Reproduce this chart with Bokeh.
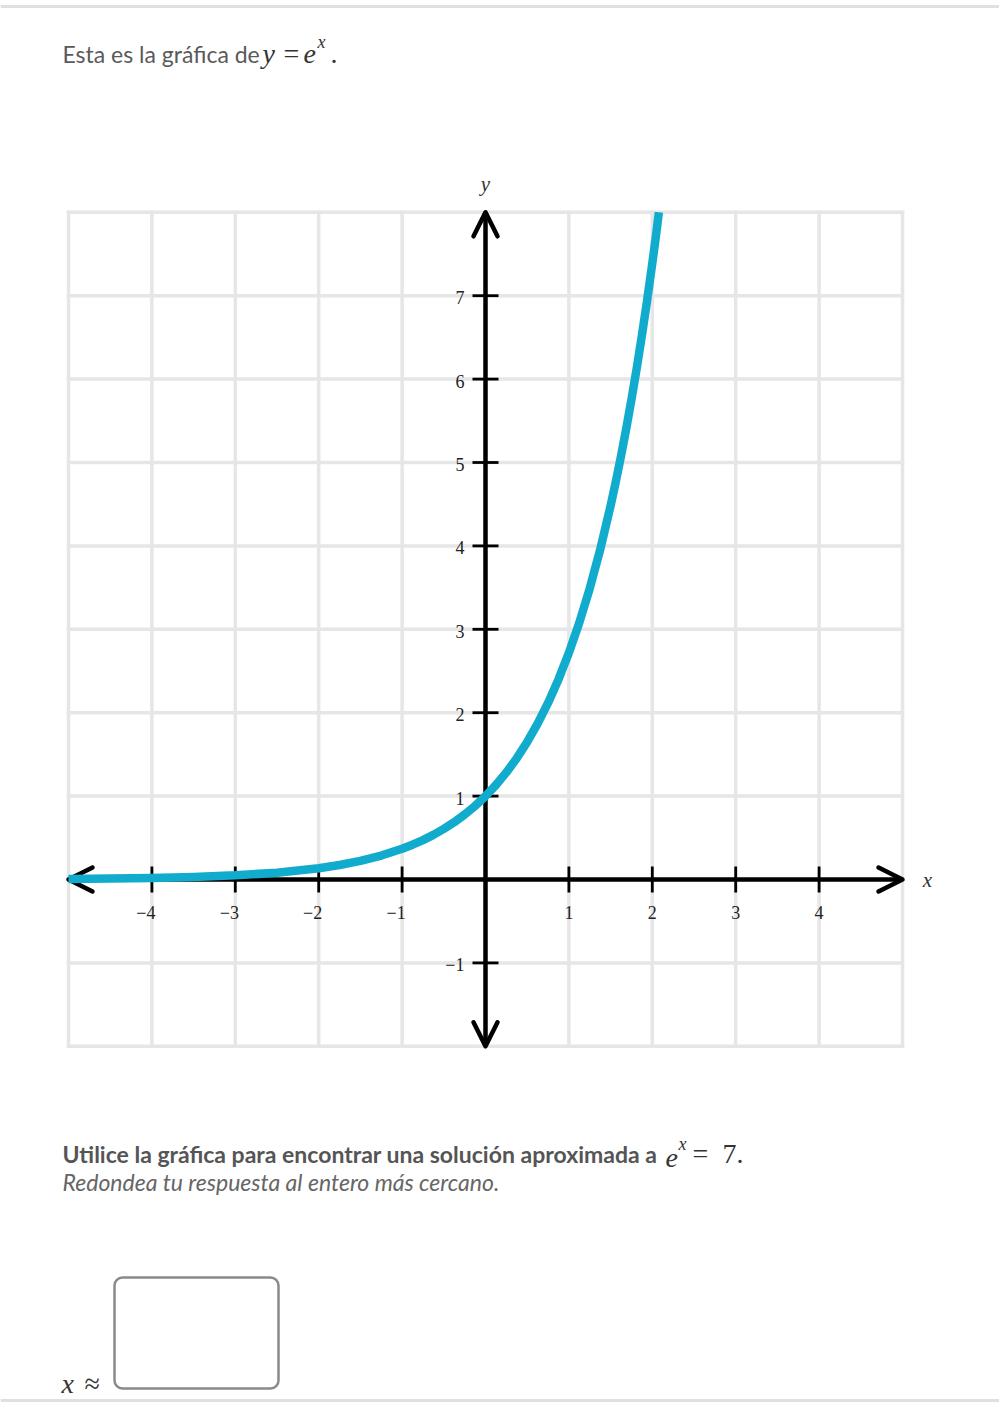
import numpy as np
from bokeh.plotting import figure
from bokeh.models import Range1d, Label, Arrow, OpenHead, Span, BoxAnnotation, ColumnDataSource
from bokeh.embed import file_html
from bokeh.resources import INLINE
from bokeh.core.properties import value

# ---- data ----
x_ticks = [-4, -3, -2, -1, 1, 2, 3, 4]
x_tick_labels = ["−4", "−3", "−2", "−1", "1", "2", "3", "4"]
y_ticks = [-1, 1, 2, 3, 4, 5, 6, 7]
y_tick_labels = ["−1", "1", "2", "3", "4", "5", "6", "7"]
grid_x = [-5, -4, -3, -2, -1, 0, 1, 2, 3, 4, 5]
grid_y = [-2, -1, 0, 1, 2, 3, 4, 5, 6, 7, 8]
curve_x = [-5, -4.5, -4, -3.5, -3, -2.5, -2, -1.75, -1.5, -1.25,
           -1, -0.875, -0.75, -0.625, -0.5, -0.375, -0.25, -0.125,
           0, 0.125, 0.25, 0.375, 0.5, 0.625, 0.75, 0.875,
           1, 1.125, 1.25, 1.375, 1.5, 1.5625, 1.625, 1.6875, 1.75, 1.8125,
           1.875, 1.9375, 2, 2.04, 2.079]
curve_y = [0.007, 0.011, 0.018, 0.030, 0.050, 0.082, 0.135, 0.174, 0.223, 0.287,
           0.368, 0.417, 0.472, 0.535, 0.607, 0.687, 0.779, 0.882,
           1.0, 1.133, 1.284, 1.455, 1.649, 1.868, 2.117, 2.399,
           2.718, 3.080, 3.490, 3.955, 4.482, 4.771, 5.078, 5.406, 5.755, 6.126,
           6.521, 6.942, 7.389, 7.690, 8.0]

# ---- layout helpers (page pixels -> data units) ----
W, H = 999, 1408
U = 83.4
X0, Y0 = 485, 879


def dx(px):
    return (px - X0) / U


def dy(py):
    return (Y0 - py) / U


p = figure(width=W, height=H, x_range=Range1d(dx(0), dx(W)), y_range=Range1d(dy(H), dy(0)),
           output_backend="svg", toolbar_location=None, min_border=0,
           x_axis_location=None, y_axis_location=None)
p.outline_line_color = None
p.grid.visible = False
p.background_fill_color = "white"
p.border_fill_color = "white"

GRID = "#e6e6e6"
xmin, xmax = min(grid_x), max(grid_x)
ymin, ymax = min(grid_y), max(grid_y)

# grid
p.segment(x0=grid_x, y0=[ymin] * len(grid_x), x1=grid_x, y1=[ymax] * len(grid_x),
          line_color=GRID, line_width=3.5, line_cap="square", level="image")
p.segment(x0=[xmin] * len(grid_y), y0=grid_y, x1=[xmax] * len(grid_y), y1=grid_y,
          line_color=GRID, line_width=3.5, line_cap="square", level="image")


# axes with arrows
def head():
    return OpenHead(size=24, line_width=4.5, line_color="black", line_cap="round", line_join="round")


xa = Arrow(x_start=xmin, y_start=0, x_end=xmax, y_end=0, start=head(), end=head(),
           line_width=4.5, line_color="black", level="underlay")
ya = Arrow(x_start=0, y_start=ymin, x_end=0, y_end=ymax, start=head(), end=head(),
           line_width=4.5, line_color="black", level="underlay")
p.add_layout(xa)
p.add_layout(ya)

# ticks
p.scatter(x=x_ticks, y=[0] * len(x_ticks), marker="dash", size=26, angle=np.pi / 2,
          line_color="black", line_width=2.8)
p.scatter(x=[0] * len(y_ticks), y=y_ticks, marker="dash", size=26,
          line_color="black", line_width=2.8)

TICKFONT = value("Liberation Serif")
# tick labels
xsrc = ColumnDataSource(dict(x=x_ticks, y=[0] * len(x_ticks), t=x_tick_labels,
                             xo=[-6 if v < 0 else 0 for v in x_ticks]))
p.text(x="x", y="y", text="t", x_offset="xo", y_offset=33, source=xsrc,
       text_align="center", text_baseline="middle", text_font=TICKFONT,
       text_font_size="18px", text_color="#222222")
ysrc = ColumnDataSource(dict(x=[0] * len(y_ticks), y=y_ticks, t=y_tick_labels))
p.text(x="x", y="y", text="t", x_offset=-21, y_offset=2, source=ysrc,
       text_align="right", text_baseline="middle", text_font=TICKFONT,
       text_font_size="18px", text_color="#222222")

# curve
p.line(curve_x, curve_y, line_width=8.5, line_color="#11accd", line_join="round")

# axis names
p.add_layout(Label(x=0, y=ymax, y_offset=28, text="y", text_align="center", text_baseline="middle",
                   text_font="Liberation Serif", text_font_style="italic", text_font_size="21px",
                   text_color="#333333"))
p.add_layout(Label(x=xmax, y=0, x_offset=25, text="x", text_align="center", text_baseline="middle",
                   text_font="Liberation Serif", text_font_style="italic", text_font_size="21px",
                   text_color="#333333"))

# page rules
p.add_layout(Span(location=dy(6), dimension="width", line_color="#e0e0e0", line_width=3))
p.add_layout(Span(location=dy(1400), dimension="width", line_color="#e0e0e0", line_width=3))


def lab(px, py, text, font="Lato", size=20, style="normal", color="#555555"):
    p.add_layout(Label(x=dx(px), y=dy(py), text=text, text_font=font, text_font_size=f"{size}px",
                       text_font_style=style, text_color=color, text_baseline="alphabetic",
                       text_align="left"))


MATH = "Liberation Serif"
MC = "#333333"
# heading
lab(62, 53, "Esta es la gráfica de", size=23, color="#5a5a5a")
lab(262, 53, "y", font=MATH, size=28, style="italic", color=MC)
lab(283, 53, "=", font=MATH, size=28, color=MC)
lab(303, 53, "e", font=MATH, size=28, style="italic", color=MC)
lab(317, 41, "x", font=MATH, size=18, style="italic", color=MC)
lab(330, 53, ".", font=MATH, size=28, color=MC)

# question
lab(62, 1153, "Utilice la gráfica para encontrar una solución aproximada a", size=23, style="bold",
    color="#555555")
lab(665, 1157, "e", font=MATH, size=28, style="italic", color=MC)
lab(678, 1143, "x", font=MATH, size=18, style="italic", color=MC)
lab(692, 1153, "=", font=MATH, size=28, color=MC)
lab(722, 1153, "7.", font=MATH, size=28, color=MC)
lab(62, 1181, "Redondea tu respuesta al entero más cercano.", size=23, style="italic", color="#666666")

# answer
lab(61, 1383, "x", font=MATH, size=28, style="italic", color=MC)
lab(84, 1383, "≈", font=MATH, size=28, color=MC)
p.add_layout(BoxAnnotation(left=dx(114), right=dx(278), top=dy(1277), bottom=dy(1388),
                           fill_color="white", fill_alpha=1, line_color="#8a8a8a", line_alpha=1.0,
                           line_width=2.5, border_radius=8, level="overlay"))

open("out.html", "w").write(file_html(p, INLINE))
